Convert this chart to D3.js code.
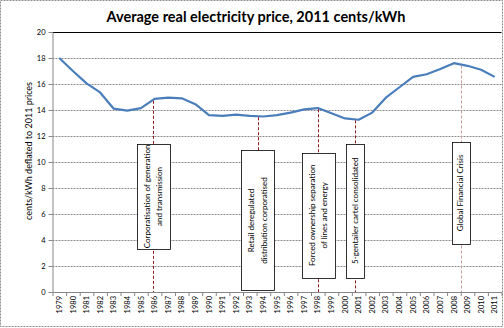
<!DOCTYPE html>
<html>
<head>
<meta charset="utf-8">
<script src="https://cdn.jsdelivr.net/npm/d3@7/dist/d3.min.js"></script>
<style>
  body { margin: 0; background: #fff; }
  text { font-family: Lato, "Liberation Sans", sans-serif; fill: #000; }
</style>
</head>
<body>
<svg id="chart" width="504" height="328"></svg>
<script>
const years = [1979, 1980, 1981, 1982, 1983, 1984, 1985, 1986, 1987, 1988, 1989,
  1990, 1991, 1992, 1993, 1994, 1995, 1996, 1997, 1998, 1999, 2000,
  2001, 2002, 2003, 2004, 2005, 2006, 2007, 2008, 2009, 2010, 2011];

// cents/kWh, 2011 prices
const prices = [18.0, 17.0, 16.05, 15.35, 14.1, 13.95, 14.15, 14.85, 14.95, 14.9, 14.45,
  13.6, 13.55, 13.65, 13.55, 13.5, 13.6, 13.8, 14.05, 14.15, 13.75, 13.35,
  13.25, 13.8, 14.95, 15.75, 16.55, 16.75, 17.15, 17.6, 17.4, 17.1, 16.55];

const yTicks = [0, 2, 4, 6, 8, 10, 12, 14, 16, 18, 20];

const eventYears = [1986, 1994, 1998, 2001, 2008];
const eventLabels = [
  ['Corporatisation of generation', 'and transmission'],
  ['Retail deregulated', 'distribution corporatised'],
  ['Forced ownership separation', 'of lines and energy'],
  ['5-gentailer cartel consolidated'],
  ['Global Financial Crisis']
];

// callout placement: nudge along x (in years), box top and bottom (in cents)
const calloutNudge = [-0.1, -0.42, 0.04, -0.27, 0.49];
const calloutSpan = [[11.4, 3.3], [10.9, 0.1], [10.7, 1.1], [11.4, 1.1], [11.55, 3.7]];

const svg = d3.select('#chart');

const x = d3.scaleLinear()
  .domain([years[0] - 0.5, years[years.length - 1] + 0.5])
  .range([52.5, 501.5]);

const y = d3.scaleLinear()
  .domain([0, 20])
  .range([292, 32]);

// chart border
svg.append('rect')
  .attr('x', 0.5).attr('y', 0.5)
  .attr('width', 502).attr('height', 326)
  .attr('fill', 'none')
  .attr('stroke', '#8c8c8c')
  .attr('stroke-dasharray', '2,1');

svg.append('text')
  .attr('x', 256).attr('y', 21.5)
  .attr('text-anchor', 'middle')
  .style('font-size', '14.5px')
  .style('font-weight', 'bold')
  .text('Average real electricity price, 2011 cents/kWh');

// gridlines
svg.append('g')
  .selectAll('line')
  .data(yTicks.filter(d => d > 0))
  .join('line')
  .attr('x1', x.range()[0]).attr('x2', x.range()[1])
  .attr('y1', d => Math.round(y(d)) + 0.5)
  .attr('y2', d => Math.round(y(d)) + 0.5)
  .attr('stroke', d => d === 20 ? '#000' : '#8c8c8c')
  .attr('stroke-dasharray', d => d === 20 ? null : '2,1');

// y axis
const yAxis = svg.append('g')
  .attr('transform', `translate(${x.range()[0]},0)`)
  .call(d3.axisLeft(y).tickValues(yTicks).tickSize(4).tickPadding(3).tickSizeOuter(0));
yAxis.select('.domain').attr('stroke', '#868686');
yAxis.selectAll('.tick line').attr('stroke', '#868686');
yAxis.selectAll('.tick text').style('font-size', '7.5px').style('font-family', 'Lato, sans-serif');

svg.append('text')
  .attr('transform', 'translate(29,151) rotate(-90)')
  .attr('text-anchor', 'middle')
  .attr('dy', '0.35em')
  .style('font-size', '9px')
  .text('cents/kWh deflated to 2011 prices');

// x axis: ticks between categories, labels at the category centres
const bounds = years.map(d => d - 0.5).concat([years[years.length - 1] + 0.5]);
const xAxis = svg.append('g')
  .attr('transform', `translate(0,${y(0)})`)
  .call(d3.axisBottom(x).tickValues(bounds).tickFormat('').tickSize(4).tickSizeOuter(0));
xAxis.select('.domain').attr('stroke', '#868686');
xAxis.selectAll('.tick line').attr('stroke', '#868686');

svg.append('g')
  .selectAll('text')
  .data(years)
  .join('text')
  .attr('transform', d => `translate(${x(d)},${y(0) + 4}) rotate(-90)`)
  .attr('text-anchor', 'end')
  .attr('dy', '0.35em')
  .style('font-size', '7.5px')
  .text(d => d);

// price line
const line = d3.line()
  .x((d, i) => x(years[i]))
  .y(d => y(d));

svg.append('path')
  .datum(prices)
  .attr('d', line)
  .attr('fill', 'none')
  .attr('stroke', '#4a7ebb')
  .attr('stroke-width', 2.2)
  .attr('stroke-linejoin', 'round');

// events: dashed drop line from the curve to the axis, with a boxed label on top
const priceAt = t => {
  const i = Math.max(0, Math.min(years.length - 2, Math.floor(t - years[0])));
  const f = t - years[i];
  return prices[i] * (1 - f) + prices[i + 1] * f;
};

const events = svg.append('g')
  .selectAll('g')
  .data(eventYears)
  .join('g');

events.append('line')
  .attr('x1', (d, i) => Math.round(x(d + calloutNudge[i])) + 0.5)
  .attr('x2', (d, i) => Math.round(x(d + calloutNudge[i])) + 0.5)
  .attr('y1', (d, i) => y(priceAt(d + calloutNudge[i])) + 1)
  .attr('y2', y(0))
  .attr('stroke', (d, i) => i === 4 ? '#c99a9a' : '#8b1a1a')
  .attr('stroke-dasharray', '3,2');

events.append('rect')
  .attr('x', (d, i) => Math.round(x(d + calloutNudge[i]) - (15 * eventLabels[i].length + 3) / 2) + 0.5)
  .attr('y', (d, i) => Math.round(y(calloutSpan[i][0])) + 0.5)
  .attr('width', (d, i) => 15 * eventLabels[i].length + 3)
  .attr('height', (d, i) => Math.round(y(calloutSpan[i][1]) - y(calloutSpan[i][0])))
  .attr('fill', '#fff')
  .attr('stroke', '#000')
  .attr('stroke-width', 0.8);

events.each(function (d, i) {
  const cx = x(d + calloutNudge[i]);
  const cy = (y(calloutSpan[i][0]) + y(calloutSpan[i][1])) / 2;
  const lines = eventLabels[i];
  d3.select(this).selectAll('text')
    .data(lines)
    .join('text')
    .attr('transform', (t, j) => `translate(${cx + (j - (lines.length - 1) / 2) * 12.5},${cy}) rotate(-90)`)
    .attr('text-anchor', 'middle')
    .attr('dy', '0.35em')
    .style('font-size', '8px')
    .text(t => t);
});
</script>
</body>
</html>
